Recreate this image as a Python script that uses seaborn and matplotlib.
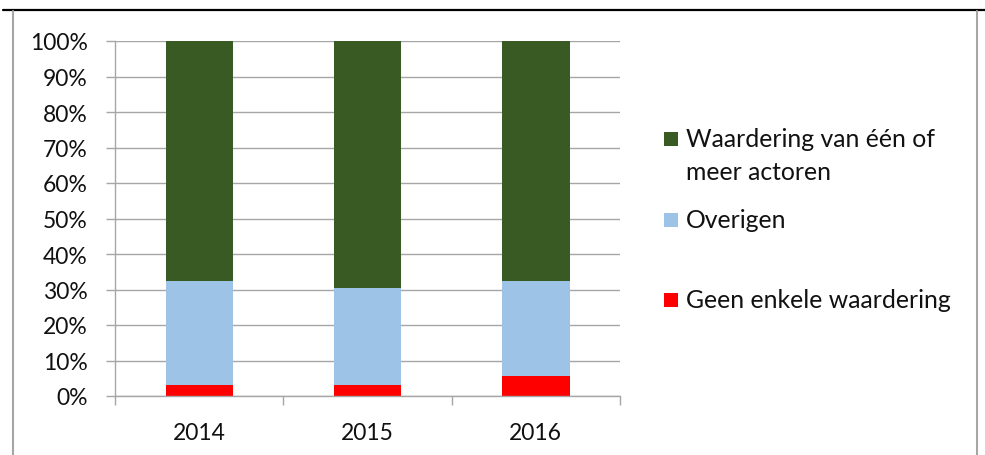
import matplotlib
matplotlib.use("Agg")
import matplotlib.pyplot as plt
import seaborn as sns
import numpy as np
from matplotlib.lines import Line2D
from matplotlib.patches import Rectangle
from matplotlib.ticker import FixedLocator, PercentFormatter

# Data (percentages)
years = ["2014", "2015", "2016"]
geen = [3.2, 3.0, 5.7]          # Geen enkele waardering
overigen = [29.3, 27.5, 26.8]   # Overigen
waardering = [67.5, 69.5, 67.5] # Waardering van één of meer actoren

series_labels = ["Waardering van één of\nmeer actoren", "Overigen", "Geen enkele waardering"]
colors = ["#3A5A24", "#9DC3E6", "#FF0000"]

sns.set_style("white")
plt.rcParams["font.family"] = ["Lato", "DejaVu Sans"]

W, H = 985, 456
fig = plt.figure(figsize=(W / 100, H / 100), dpi=100)
ax = fig.add_axes([115 / W, 1 - 397 / H, 505 / W, 355 / H])

# Stacked bars drawn as layered cumulative heights
cum_blue = np.array(geen) + np.array(overigen)
cum_green = cum_blue + np.array(waardering)
for heights, col in zip([cum_green, cum_blue, geen], colors):
    sns.barplot(x=years, y=heights, color=col, saturation=1, width=0.4,
                linewidth=0, ax=ax)

ax.set_xlim(-0.5, 2.5)
ax.set_ylim(0, 100)
ax.set_xlabel("")
ax.set_ylabel("")

ax.yaxis.set_major_locator(FixedLocator(np.arange(0, 101, 10)))
ax.yaxis.set_major_formatter(PercentFormatter(decimals=0))
ax.grid(axis="y", color="#A6A6A6", linewidth=1.0)
ax.set_axisbelow(True)

for s in ["top", "right"]:
    ax.spines[s].set_visible(False)
for s in ["left", "bottom"]:
    ax.spines[s].set_color("#A6A6A6")
    ax.spines[s].set_linewidth(1.0)

ax.tick_params(axis="y", which="major", length=6.5, width=1.0, color="#A6A6A6",
               pad=13, labelsize=16.5, left=True, labelcolor="#111111")
ax.xaxis.set_minor_locator(FixedLocator([-0.5, 0.5, 1.5, 2.5]))
ax.tick_params(axis="x", which="minor", length=6.5, width=1.0, color="#A6A6A6",
               bottom=True)
ax.tick_params(axis="x", which="major", length=0, pad=19, labelsize=16.5,
               labelcolor="#111111")

# Legend (Excel-style, marker aligned with first text line)
leg_rows = [140, 221, 301]
for lab, col, yc in zip(series_labels, colors, leg_rows):
    fig.add_artist(Rectangle((664 / W, 1 - (yc + 7) / H), 14 / W, 14 / H,
                             transform=fig.transFigure, color=col, linewidth=0))
    fig.text(686 / W, 1 - (yc - 12) / H, lab, ha="left", va="top",
             fontsize=17.8, linespacing=1.5, color="#111111")

# Cell border around the chart
fig.add_artist(Line2D([3 / W, 1], [1 - 11 / H, 1 - 11 / H], color="black",
                      linewidth=1.6, transform=fig.transFigure))
fig.add_artist(Line2D([12.5 / W, 12.5 / W], [0, 1 - 12 / H], color="#A6A6A6",
                      linewidth=1.5, transform=fig.transFigure))
fig.add_artist(Line2D([977 / W, 977 / W], [0, 1 - 12 / H], color="#A6A6A6",
                      linewidth=1.5, transform=fig.transFigure))

fig.savefig("out.png", dpi=100)
